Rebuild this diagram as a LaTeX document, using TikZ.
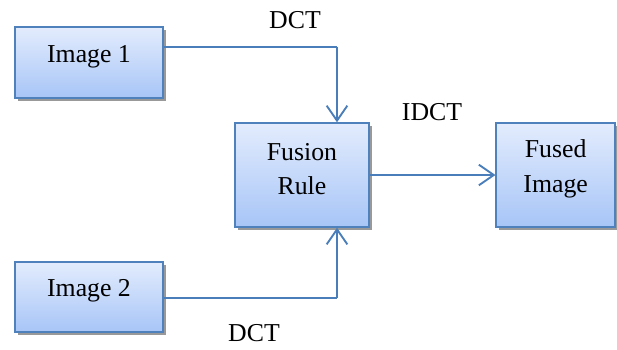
\documentclass[tikz,border=0pt]{standalone}
\usepackage{fontspec}
\setmainfont{Liberation Serif}
\usetikzlibrary{arrows.meta,shadows}
\definecolor{boxline}{HTML}{4F81BD}
\definecolor{boxtop}{HTML}{E3ECFD}
\definecolor{boxbot}{HTML}{A7C5F7}
\definecolor{wire}{HTML}{4A7EBB}
\tikzset{
  block/.style={draw=boxline, line width=1.2pt, top color=boxtop, bottom color=boxbot,
    drop shadow={shadow xshift=2.2pt, shadow yshift=-2.2pt, fill=black!40, opacity=1}},
  blocktext/.style={align=center, font=\fontsize{22}{29.5}\selectfont, yshift=0.18cm},
  wireline/.style={draw=wire, line width=1.6pt},
  wirearrow/.style={wireline, -{Straight Barb[length=0.45cm, width=0.62cm, line width=1.6pt]}},
  lbl/.style={font=\fontsize{22}{27}\selectfont}
}
\begin{document}
\begin{tikzpicture}
                \useasboundingbox (0,0) rectangle (18.51,-10.47);
                % nodes
                \node[block, minimum width=4.44cm, minimum height=2.13cm,
                  label={[blocktext]center:Image 1}] (img1) at (2.67,-1.88) {};
                \node[block, minimum width=4.44cm, minimum height=2.1cm,
                  label={[blocktext]center:Image 2}] (img2) at (2.67,-8.91) {};
                \node[block, minimum width=4.02cm, minimum height=3.12cm,
                  label={[blocktext]center:{Fusion\\Rule}}] (fuse) at (9.06,-5.25) {};
                \node[block, minimum width=3.57cm, minimum height=3.12cm,
                  label={[blocktext]center:{Fused\\Image}}] (out) at (16.67,-5.25) {};
                \coordinate (c1) at (10.11,-1.41);
                \coordinate (c2) at (10.11,-8.94);
                % labels
                \node[lbl] (dct1) at (8.85,-0.6) {DCT};
                \node[lbl] (idct) at (12.96,-3.36) {IDCT};
                \node[lbl] (dct2) at (7.62,-9.99) {DCT};
                % edges
                \draw[wireline] (img1.east |- c1) -- (c1);
                \draw[wirearrow] (c1) -- (c1 |- fuse.north);
                \draw[wireline] (img2.east |- c2) -- (c2);
                \draw[wirearrow] (c2) -- (c2 |- fuse.south);
                \draw[wirearrow] (fuse.east) -- (out.west);
            \end{tikzpicture}
\end{document}
